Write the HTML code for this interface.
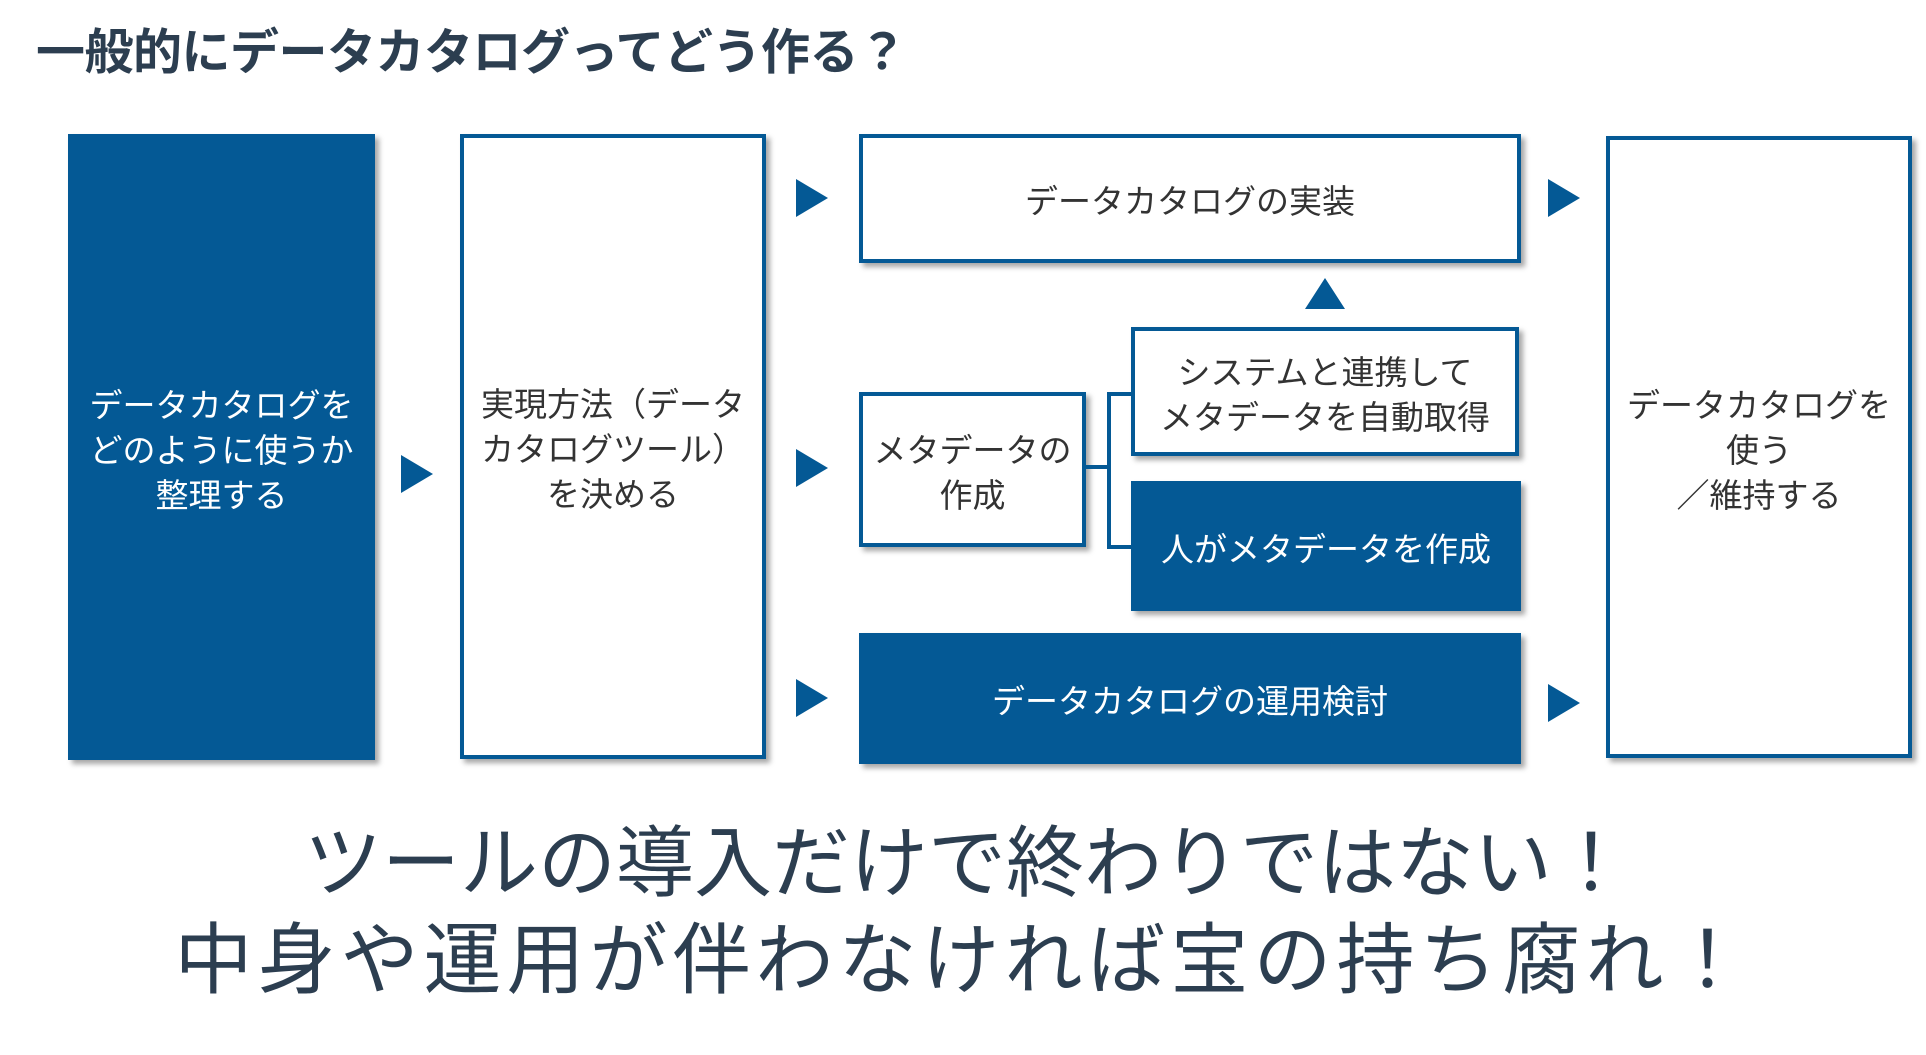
<!DOCTYPE html>
<html><head><meta charset="utf-8"><style>
body{margin:0;width:1926px;height:1055px;background:#fff;overflow:hidden;position:relative;font-family:"Liberation Sans","Noto Sans CJK JP",sans-serif;}
.b{position:absolute;box-sizing:border-box;display:flex;align-items:center;justify-content:center;text-align:center;font-size:33px;line-height:45px;padding-top:6px;box-shadow:4px 4px 5px rgba(0,0,0,0.35);}
.d{background:#045995;color:#fff;}
.w{background:#fff;border:4px solid #045995;color:#333;}
.ar{position:absolute;width:0;height:0;border-top:19px solid transparent;border-bottom:19px solid transparent;border-left:32px solid #045995;}
.ln{position:absolute;background:#045995;}
.t{position:absolute;color:#2c3e50;white-space:nowrap;}
</style></head><body>
<div class="t" style="left:36px;top:23px;font-size:49px;font-weight:bold;line-height:60px;letter-spacing:-0.5px;">一般的にデータカタログってどう作る？</div>

<div class="b d" style="left:68px;top:134px;width:307px;height:626px;">データカタログを<br>どのように使うか<br>整理する</div>
<div class="ar" style="left:401px;top:455px;"></div>
<div class="b w" style="left:460px;top:134px;width:306px;height:625px;">実現方法（データ<br>カタログツール）<br>を決める</div>

<div class="ar" style="left:796px;top:179px;"></div>
<div class="ar" style="left:796px;top:449px;"></div>
<div class="ar" style="left:796px;top:679px;"></div>

<div class="b w" style="left:859px;top:134px;width:662px;height:129px;">データカタログの実装</div>
<div style="position:absolute;left:1305px;top:278px;width:0;height:0;border-left:20px solid transparent;border-right:20px solid transparent;border-bottom:31px solid #045995;"></div>
<div class="b w" style="left:859px;top:392px;width:227px;height:155px;">メタデータの<br>作成</div>
<div class="ln" style="left:1086px;top:465px;width:25px;height:4px;"></div>
<div class="ln" style="left:1107px;top:392px;width:4px;height:157px;"></div>
<div class="ln" style="left:1107px;top:392px;width:26px;height:4px;"></div>
<div class="ln" style="left:1107px;top:545px;width:26px;height:4px;"></div>
<div class="b w" style="left:1131px;top:327px;width:388px;height:129px;">システムと連携して<br>メタデータを自動取得</div>
<div class="b d" style="left:1131px;top:481px;width:390px;height:130px;">人がメタデータを作成</div>
<div class="b d" style="left:859px;top:633px;width:662px;height:131px;">データカタログの運用検討</div>

<div class="ar" style="left:1548px;top:179px;"></div>
<div class="ar" style="left:1548px;top:684px;"></div>
<div class="b w" style="left:1606px;top:136px;width:306px;height:622px;">データカタログを<br>使う<br>／維持する</div>

<div class="t" style="left:0;width:1926px;text-align:center;top:815px;font-size:78px;line-height:96px;"><span style="margin-left:8px">ツールの導入だけで終わりではない！</span></div>
<div class="t" style="left:0;width:1926px;text-align:center;top:912px;font-size:78px;line-height:96px;letter-spacing:5px;">中身や運用が伴わなければ宝の持ち腐れ！</div>
</body></html>
